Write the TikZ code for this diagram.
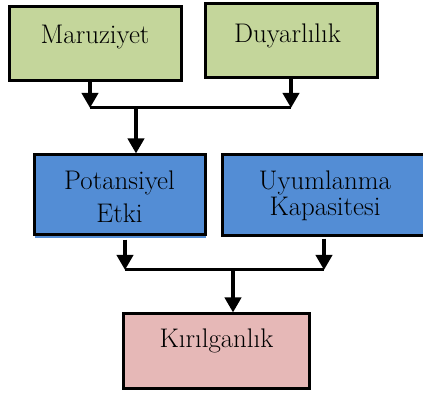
\documentclass[tikz,border=0pt]{standalone}
\usetikzlibrary{arrows.meta}
\definecolor{expgreen}{RGB}{196,214,155}
\definecolor{potblue}{RGB}{83,141,213}
\definecolor{vulpink}{RGB}{230,184,183}
\tikzset{
  box/.style={draw=black, line width=3bp, inner sep=0pt},
  word/.style={font=\fontsize{27}{32}\selectfont, align=center, anchor=base},
  link/.style={line width=4bp},
  bar/.style={line width=3bp},
}
\begin{document}
\begin{tikzpicture}[x=1bp,y=1bp,>={Triangle[width=16bp,length=15bp]}]
  \useasboundingbox (0,0) rectangle (423,394);
%%
  % Node: mar
  \node[box, fill=expgreen, minimum width=171bp, minimum height=73bp] (mar) at (95.5,350.5) {};
  \node[word] (martxt) at (95,351) {Maruziyet};
  % Node: duy
  \node[box, fill=expgreen, minimum width=171bp, minimum height=73bp] (duy) at (291.5,353.5) {};
  \node[word] (duytxt) at (287.5,351.5) {Duyarlılık};
  % Node: pot
  \fill[potblue] (35,156) rectangle (206,160);
  \node[box, fill=potblue, minimum width=170bp, minimum height=79bp] (pot) at (120,199.5) {};
  \node[word] (pottxt) at (119.5,172) {Potansiyel\\[1bp]Etki};
  % Node: uyu
  \node[box, fill=potblue, minimum width=215bp, minimum height=80bp] (uyu) at (330,199) {};
  \node[word] (uyutxt) at (325,179) {Uyumlanma\\[-6bp]Kapasitesi};
  % Node: kir
  \node[box, fill=vulpink, minimum width=185bp, minimum height=74bp] (kir) at (216.5,43) {};
  \node[word] (kirtxt) at (216.5,47) {Kırılganlık};
%%
  \coordinate (j1) at (90,286);
  \coordinate (j2) at (291,286);
  \coordinate (j3) at (136,286);
  \coordinate (k1) at (125,124);
  \coordinate (k2) at (324,124);
  \coordinate (k3) at (233,124);
  % Edge: mar -> j1, duy -> j2
  \draw[link,->] (mar.south -| j1) -- (j1);
  \draw[link,->] (duy.south -| j2) -- (j2);
  \draw[bar] (j1) -- (j2);
  % Edge: j3 -> pot
  \draw[link,->] (j3) -- (pot.north -| j3);
  % Edge: pot -> k1, uyu -> k2
  \draw[link,->] ([yshift=-4bp]pot.south -| k1) -- (k1);
  \draw[link,->] ([yshift=-2bp]uyu.south -| k2) -- (k2);
  \draw[bar] (k1) -- (k2);
  % Edge: k3 -> kir
  \draw[link,->] (k3) -- (kir.north -| k3);
%
\end{tikzpicture}
\end{document}
